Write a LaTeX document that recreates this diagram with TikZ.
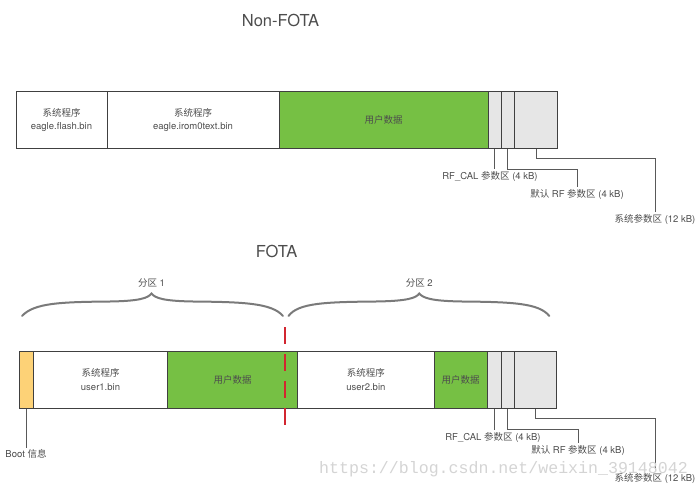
\documentclass[tikz,border=0pt]{standalone}
\usepackage{fontspec}
\setmainfont{TeX Gyre Heros}
\newfontfamily\cjk{Noto Sans CJK SC}
\newfontfamily\wmfont{Liberation Mono}
\usepackage{xcolor}
\usetikzlibrary{shapes,arrows,positioning}

\definecolor{userdata}{HTML}{76C044}
\definecolor{paramgrey}{HTML}{E6E6E6}
\definecolor{bootinfo}{HTML}{FDD277}
\definecolor{labelgrey}{HTML}{4D4D4D}
\definecolor{bracegrey}{HTML}{7A7A7A}
\definecolor{cutred}{RGB}{210,38,48}

\begin{document}
\begin{tikzpicture}[x=1pt,y=-1pt,
    seg/.style={draw=black!75,line width=0.9pt,minimum height=57pt,inner sep=0pt,
        font=\fontsize{9.5}{13.5}\selectfont,text=labelgrey,align=center},
    lbl/.style={font=\fontsize{9.5}{11}\selectfont,text=labelgrey,inner sep=1.5pt},
    lead/.style={draw=black!65,line width=0.9pt},
    flashbrace/.style={draw=bracegrey,line width=2pt,line cap=round},
    cutline/.style={draw=cutred,line width=2pt,dash pattern=on 17pt off 10pt},
    heading/.style={font=\fontsize{16.5}{20}\selectfont,text=labelgrey}]
    \useasboundingbox (0,0) rectangle (700,489);

    % Non-FOTA
    \node[heading] (nonfota) at (280.5,20) {Non-FOTA};

    \node[seg,minimum width=91pt] (flash) at (61.5,120) {{\cjk 系统程序}\\eagle.flash.bin};
    \node[seg,minimum width=172pt] (irom) at (193,120) {{\cjk 系统程序}\\eagle.irom0text.bin};
    \node[seg,fill=userdata,minimum width=209pt] (udata) at (383.5,120) {\cjk 用户数据};
    \node[seg,fill=paramgrey,minimum width=13pt] (rfcal) at (494.5,120) {};
    \node[seg,fill=paramgrey,minimum width=13.5pt] (defrf) at (507.75,120) {};
    \node[seg,fill=paramgrey,minimum width=43pt] (syspar) at (536,120) {};

    \node[lbl] (rfcallbl) at (490,176) {RF\_CAL {\cjk 参数区} (4 kB)};
    \node[lbl] (defrflbl) at (577,194) {{\cjk 默认} RF {\cjk 参数区} (4 kB)};
    \node[lbl] (sysparlbl) at (655,219) {{\cjk 系统参数区} (12 kB)};

    \draw[lead] (rfcal.south) -- (rfcal.south |- rfcallbl.north);
    \draw[lead] (defrf.south) -- ++(0,20) -| (defrflbl.north);
    \draw[lead] (syspar.south) -- ++(0,9) -| (sysparlbl.north);

    % FOTA
    \node[heading] (fota) at (276.7,251.7) {FOTA};

    \node[lbl] (part1) at (151.5,283) {{\cjk 分区} 1};
    \node[lbl] (part2) at (419.3,283) {{\cjk 分区} 2};
    \draw[flashbrace] (22,316) .. controls (34,303) and (60,302) .. (110,301.5)
        .. controls (140,301) and (148,298) .. (151.5,293.5)
        .. controls (155,298) and (163,301) .. (193,301.5)
        .. controls (243,302) and (272,303) .. (283,316);
    \draw[flashbrace] (288.5,316) .. controls (298,303) and (325,302) .. (376,301.5)
        .. controls (408,301) and (416,298) .. (419.3,293.5)
        .. controls (423,298) and (431,301) .. (462,301.5)
        .. controls (512,302) and (539,303) .. (549.3,316);

    \node[seg,fill=bootinfo,minimum width=14.3pt] (boot) at (26.15,379.8) {};
    \node[seg,minimum width=134.4pt] (user1) at (100.5,379.8) {{\cjk 系统程序}\\user1.bin};
    \node[seg,fill=userdata,minimum width=130pt] (udata1) at (232.7,379.8) {\cjk 用户数据};
    \node[seg,minimum width=136.3pt] (user2) at (365.85,379.8) {{\cjk 系统程序}\\user2.bin};
    \node[seg,fill=userdata,minimum width=53.3pt] (udata2) at (460.65,379.8) {\cjk 用户数据};
    \node[seg,fill=paramgrey,minimum width=14pt] (rfcal2) at (494.3,379.8) {};
    \node[seg,fill=paramgrey,minimum width=12.7pt] (defrf2) at (507.65,379.8) {};
    \node[seg,fill=paramgrey,minimum width=42.7pt] (syspar2) at (535.35,379.8) {};

    \coordinate (cuttop) at (285.3,327);
    \coordinate (cutbot) at (285.3,428);
    \draw[cutline] (cuttop) -- (cutbot);

    \node[lbl] (bootlbl) at (26,454) {Boot {\cjk 信息}};
    \node[lbl] (rfcallbl2) at (493,437) {RF\_CAL {\cjk 参数区} (4 kB)};
    \node[lbl] (defrflbl2) at (578,450) {{\cjk 默认} RF {\cjk 参数区} (4 kB)};
    \node[lbl] (sysparlbl2) at (655,478) {{\cjk 系统参数区} (12 kB)};

    \draw[lead] (boot.south) -- (boot.south |- bootlbl.north);
    \draw[lead] (rfcal2.south) -- (rfcal2.south |- rfcallbl2.north);
    \draw[lead] (defrf2.south) -- ++(0,21) -| (defrflbl2.north);
    \draw[lead] (syspar2.south) -- ++(0,9.4) -| (sysparlbl2.north);

    % watermark
    \node[font=\wmfont\fontsize{16.6}{18}\selectfont,text=black!17,inner sep=0pt] (mark) at (503.5,469.3)
        {https://blog.csdn.net/weixin\_39148042};
\end{tikzpicture}
\end{document}
